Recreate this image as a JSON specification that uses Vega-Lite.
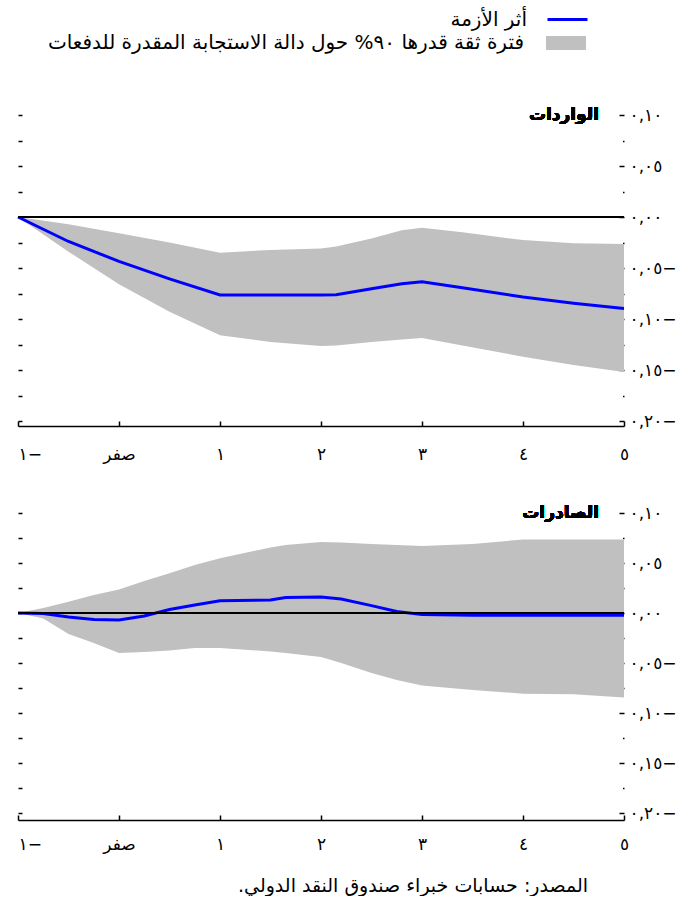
{
  "$schema": "https://vega.github.io/schema/vega-lite/v6.json",
  "padding": {"left": 12, "top": 8, "right": 0, "bottom": 0},
  "background": "white",
  "config": {
    "view": {"stroke": null},
    "font": "DejaVu Sans",
    "axis": {"grid": false, "domainColor": "#000", "tickColor": "#000", "labelColor": "#000", "labelFont": "DejaVu Sans", "titleFont": "DejaVu Sans"},
    "legend": {"labelFont": "DejaVu Sans", "labelColor": "#000"}
  },
  "datasets": {
    "imports": [
      {"h": -1, "irf": 0, "lo": 0, "hi": 0},
      {"h": -0.5, "irf": -0.024, "lo": -0.034, "hi": -0.007},
      {"h": 0, "irf": -0.0435, "lo": -0.066, "hi": -0.016},
      {"h": 0.5, "irf": -0.0606, "lo": -0.093, "hi": -0.025},
      {"h": 1, "irf": -0.0765, "lo": -0.116, "hi": -0.035},
      {"h": 1.5, "irf": -0.0765, "lo": -0.1226, "hi": -0.0323},
      {"h": 2, "irf": -0.0765, "lo": -0.1265, "hi": -0.031},
      {"h": 2.15, "irf": -0.0762, "lo": -0.126, "hi": -0.029},
      {"h": 2.5, "irf": -0.0703, "lo": -0.1226, "hi": -0.021},
      {"h": 2.8, "irf": -0.0655, "lo": -0.12, "hi": -0.013},
      {"h": 3, "irf": -0.0635, "lo": -0.1187, "hi": -0.0105},
      {"h": 3.4, "irf": -0.0694, "lo": -0.126, "hi": -0.015},
      {"h": 4, "irf": -0.0784, "lo": -0.137, "hi": -0.0226},
      {"h": 4.5, "irf": -0.0845, "lo": -0.145, "hi": -0.0258},
      {"h": 5, "irf": -0.0897, "lo": -0.152, "hi": -0.0265}
    ],
    "exports": [
      {"h": -1, "irf": 0, "lo": 0, "hi": 0},
      {"h": -0.75, "irf": -0.0006, "lo": -0.0055, "hi": 0.005},
      {"h": -0.5, "irf": -0.004, "lo": -0.021, "hi": 0.0113},
      {"h": -0.25, "irf": -0.0065, "lo": -0.03, "hi": 0.018},
      {"h": 0, "irf": -0.007, "lo": -0.04, "hi": 0.0235},
      {"h": 0.25, "irf": -0.003, "lo": -0.039, "hi": 0.032},
      {"h": 0.5, "irf": 0.0035, "lo": -0.0375, "hi": 0.0397},
      {"h": 0.75, "irf": 0.008, "lo": -0.035, "hi": 0.048},
      {"h": 1, "irf": 0.0123, "lo": -0.035, "hi": 0.0548},
      {"h": 1.5, "irf": 0.013, "lo": -0.0385, "hi": 0.0655},
      {"h": 1.65, "irf": 0.0155, "lo": -0.04, "hi": 0.068},
      {"h": 2, "irf": 0.016, "lo": -0.044, "hi": 0.071},
      {"h": 2.2, "irf": 0.014, "lo": -0.05, "hi": 0.0705},
      {"h": 2.5, "irf": 0.0074, "lo": -0.06, "hi": 0.069},
      {"h": 2.75, "irf": 0.0016, "lo": -0.067, "hi": 0.068},
      {"h": 3, "irf": -0.0016, "lo": -0.0724, "hi": 0.067},
      {"h": 3.5, "irf": -0.0023, "lo": -0.077, "hi": 0.069},
      {"h": 4, "irf": -0.0023, "lo": -0.0807, "hi": 0.0735},
      {"h": 4.5, "irf": -0.0023, "lo": -0.0813, "hi": 0.0735},
      {"h": 5, "irf": -0.0023, "lo": -0.0846, "hi": 0.0735}
    ]
  },
  "title": {
    "text": "\u202a\u202bالمصدر:\u202c \u202bحسابات\u202c \u202bخبراء\u202c \u202bصندوق\u202c \u202bالنقد\u202c \u202bالدولي.\u202c\u202c",
    "orient": "bottom", "anchor": "middle", "frame": "group",
    "fontSize": 19, "fontWeight": "normal", "font": "DejaVu Sans", "color": "#000",
    "offset": 25, "dx": 92
  },
  "spacing": 92,
  "bounds": "flush",
  "vconcat": [
    {
      "width": 606, "height": 306,
      "data": {"name": "imports"},
      "resolve": {"axis": {"y": "independent"}},
      "layer": [
        {
          "mark": {"type": "area", "opacity": 1},
          "encoding": {
            "x": {"field": "h", "type": "quantitative", "scale": {"domain": [-1, 5], "nice": false, "zero": false},
              "axis": {"orient": "bottom", "values": [-1, 0, 1, 2, 3, 4, 5], "title": null, "offset": 5, "tickSize": -5, "tickWidth": 1.5, "domainWidth": 1.5, "labelPadding": 25, "labelFontSize": 17,
                "labelAlign": {"condition": {"test": "datum.value == -1", "value": "left"}, "value": "center"},
                "labelExpr": "datum.value == -1 ? '١−' : datum.value == 0 ? 'صفر' : datum.value == 1 ? '١' : datum.value == 2 ? '٢' : datum.value == 3 ? '٣' : datum.value == 4 ? '٤' : '٥'"}},
            "y": {"field": "lo", "type": "quantitative", "scale": {"domain": [-0.2, 0.1], "nice": false, "zero": false},
              "axis": {"orient": "right", "title": null, "domain": false, "values": [-0.2, -0.175, -0.15, -0.125, -0.1, -0.075, -0.05, -0.025, 0, 0.025, 0.05, 0.075, 0.1],
                "tickSize": {"condition": {"test": "abs(round(datum.value*1000)) % 50 != 0", "value": -1.5}, "value": -5}, "tickWidth": 1.5, "labelPadding": 10, "labelFontSize": 17,
                "labelExpr": "round(datum.value*1000) == 100 ? '٠,١٠' : round(datum.value*1000) == 50 ? '٠,٠٥' : round(datum.value*1000) == 0 ? '٠,٠٠' : round(datum.value*1000) == -50 ? '٠,٠٥−' : round(datum.value*1000) == -100 ? '٠,١٠−' : round(datum.value*1000) == -150 ? '٠,١٥−' : round(datum.value*1000) == -200 ? '٠,٢٠−' : ''"}},
            "y2": {"field": "hi"},
            "fill": {"datum": "\u202a\u202bفترة\u202c \u202bثقة\u202c \u202bقدرها\u202c \u202b٩٠%\u202c \u202bحول\u202c \u202bدالة\u202c \u202bالاستجابة\u202c \u202bالمقدرة\u202c \u202bللدفعات\u202c\u202c", "type": "nominal", "scale": {"range": ["#c0c0c0"]},
              "legend": {"orient": "none", "legendX": 538, "legendY": -82, "title": null, "symbolType": "M-2,-0.7H2V0.7H-2Z", "symbolSize": 400, "symbolStrokeWidth": 0, "symbolOpacity": 1, "labelAlign": "right", "labelOffset": -52, "labelFontSize": 20, "labelLimit": 1000, "padding": 0}}
          }
        },
        {
          "mark": {"type": "line", "strokeWidth": 3},
          "encoding": {
            "x": {"field": "h", "type": "quantitative"},
            "y": {"field": "irf", "type": "quantitative", "axis": null},
            "stroke": {"datum": "\u202a\u202bأثر\u202c \u202bالأزمة\u202c\u202c", "type": "nominal", "scale": {"range": ["#0000ff"]},
              "legend": {"orient": "none", "legendX": 538, "legendY": -107, "title": null, "symbolType": "M-2,0H2", "symbolSize": 400, "symbolStrokeWidth": 3, "labelAlign": "right", "labelOffset": -52, "labelFontSize": 20, "labelLimit": 1000, "padding": 0}}
          }
        },
        {
          "mark": {"type": "rule", "color": "#000", "strokeWidth": 1.5},
          "encoding": {
            "y": {"datum": 0, "type": "quantitative",
              "axis": {"orient": "left", "title": null, "labels": false, "domain": false, "tickSize": -4, "tickWidth": 1.5,
                "values": [-0.2, -0.175, -0.15, -0.125, -0.1, -0.075, -0.05, -0.025, 0, 0.025, 0.05, 0.075, 0.1]}}
          }
        },
        {
          "mark": {"type": "text", "align": "right", "baseline": "middle", "dx": -25, "fontSize": 17, "fontWeight": "bold", "color": "#000"},
          "encoding": {
            "x": {"datum": 5, "type": "quantitative"},
            "y": {"datum": 0.1, "type": "quantitative", "axis": null},
            "text": {"value": "الواردات"}
          }
        }
      ]
    },
    {
      "width": 606, "height": 300,
      "data": {"name": "exports"},
      "resolve": {"axis": {"y": "independent"}},
      "layer": [
        {
          "mark": {"type": "area", "opacity": 1},
          "encoding": {
            "x": {"field": "h", "type": "quantitative", "scale": {"domain": [-1, 5], "nice": false, "zero": false},
              "axis": {"orient": "bottom", "values": [-1, 0, 1, 2, 3, 4, 5], "title": null, "offset": 7, "tickSize": -5, "tickWidth": 1.5, "domainWidth": 1.5, "labelPadding": 21, "labelFontSize": 17,
                "labelAlign": {"condition": {"test": "datum.value == -1", "value": "left"}, "value": "center"},
                "labelExpr": "datum.value == -1 ? '١−' : datum.value == 0 ? 'صفر' : datum.value == 1 ? '١' : datum.value == 2 ? '٢' : datum.value == 3 ? '٣' : datum.value == 4 ? '٤' : '٥'"}},
            "y": {"field": "lo", "type": "quantitative", "scale": {"domain": [-0.2, 0.1], "nice": false, "zero": false},
              "axis": {"orient": "right", "title": null, "domain": false, "values": [-0.2, -0.175, -0.15, -0.125, -0.1, -0.075, -0.05, -0.025, 0, 0.025, 0.05, 0.075, 0.1],
                "tickSize": {"condition": {"test": "abs(round(datum.value*1000)) % 50 != 0", "value": -1.5}, "value": -5}, "tickWidth": 1.5, "labelPadding": 10, "labelFontSize": 17,
                "labelExpr": "round(datum.value*1000) == 100 ? '٠,١٠' : round(datum.value*1000) == 50 ? '٠,٠٥' : round(datum.value*1000) == 0 ? '٠,٠٠' : round(datum.value*1000) == -50 ? '٠,٠٥−' : round(datum.value*1000) == -100 ? '٠,١٠−' : round(datum.value*1000) == -150 ? '٠,١٥−' : round(datum.value*1000) == -200 ? '٠,٢٠−' : ''"}},
            "y2": {"field": "hi"},
            "fill": {"datum": "\u202a\u202bفترة\u202c \u202bثقة\u202c \u202bقدرها\u202c \u202b٩٠%\u202c \u202bحول\u202c \u202bدالة\u202c \u202bالاستجابة\u202c \u202bالمقدرة\u202c \u202bللدفعات\u202c\u202c", "type": "nominal", "scale": {"range": ["#c0c0c0"]},
              "legend": {"orient": "none", "legendX": 538, "legendY": -82, "title": null, "symbolType": "M-2,-0.7H2V0.7H-2Z", "symbolSize": 400, "symbolStrokeWidth": 0, "symbolOpacity": 1, "labelAlign": "right", "labelOffset": -52, "labelFontSize": 20, "labelLimit": 1000, "padding": 0}}
          }
        },
        {
          "mark": {"type": "line", "strokeWidth": 3},
          "encoding": {
            "x": {"field": "h", "type": "quantitative"},
            "y": {"field": "irf", "type": "quantitative", "axis": null},
            "stroke": {"datum": "\u202a\u202bأثر\u202c \u202bالأزمة\u202c\u202c", "type": "nominal", "scale": {"range": ["#0000ff"]},
              "legend": {"orient": "none", "legendX": 538, "legendY": -107, "title": null, "symbolType": "M-2,0H2", "symbolSize": 400, "symbolStrokeWidth": 3, "labelAlign": "right", "labelOffset": -52, "labelFontSize": 20, "labelLimit": 1000, "padding": 0}}
          }
        },
        {
          "mark": {"type": "rule", "color": "#000", "strokeWidth": 1.5},
          "encoding": {
            "y": {"datum": 0, "type": "quantitative",
              "axis": {"orient": "left", "title": null, "labels": false, "domain": false, "tickSize": -4, "tickWidth": 1.5,
                "values": [-0.2, -0.175, -0.15, -0.125, -0.1, -0.075, -0.05, -0.025, 0, 0.025, 0.05, 0.075, 0.1]}}
          }
        },
        {
          "mark": {"type": "text", "align": "right", "baseline": "middle", "dx": -25, "fontSize": 17, "fontWeight": "bold", "color": "#000"},
          "encoding": {
            "x": {"datum": 5, "type": "quantitative"},
            "y": {"datum": 0.1, "type": "quantitative", "axis": null},
            "text": {"value": "الصادرات"}
          }
        }
      ]
    }
  ]
}
